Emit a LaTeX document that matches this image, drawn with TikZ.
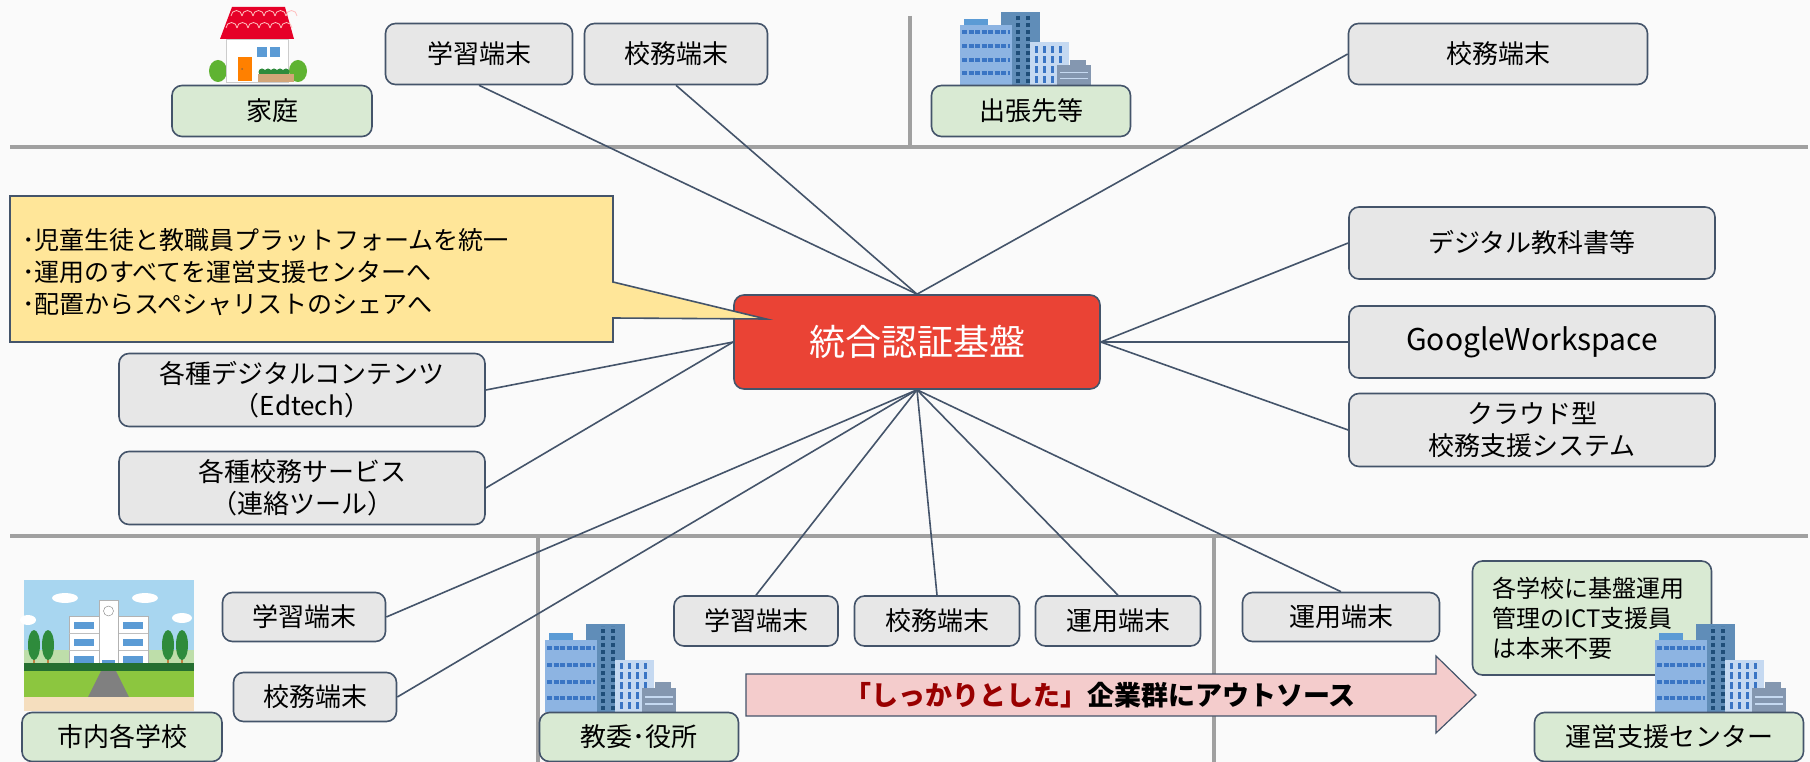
\documentclass[tikz,border=0pt]{standalone}
\usepackage{fontspec}
\setmainfont{Noto Sans CJK JP}
\usetikzlibrary{calc}
\definecolor{slate}{RGB}{68,84,106}
\definecolor{termgray}{RGB}{231,231,231}
\definecolor{sitegreen}{RGB}{217,234,211}
\definecolor{coralred}{RGB}{234,67,53}
\definecolor{memoyellow}{RGB}{255,230,153}
\definecolor{sepgray}{RGB}{160,160,160}
\definecolor{paper}{RGB}{250,250,250}
\definecolor{arrowpink}{RGB}{244,204,204}
\definecolor{deepred}{RGB}{153,0,0}
% clip-art colours
\definecolor{roofred}{RGB}{230,0,40}
\definecolor{leafgreen}{RGB}{95,179,50}
\definecolor{treegreen}{RGB}{46,139,60}
\definecolor{hillgreen}{RGB}{190,222,170}
\definecolor{skyblue}{RGB}{168,214,240}
\definecolor{grassgreen}{RGB}{140,198,63}
\definecolor{sand}{RGB}{245,222,190}
\definecolor{winblue}{RGB}{91,155,213}
\definecolor{towerblue}{RGB}{96,141,184}
\definecolor{navywin}{RGB}{31,78,121}
\definecolor{lightblock}{RGB}{141,180,226}
\definecolor{paleblock}{RGB}{197,217,241}
\definecolor{stripeblue}{RGB}{58,117,196}
\definecolor{slateblock}{RGB}{132,151,176}

\newcommand\termfont{\fontsize{26}{32}\selectfont}
\newcommand\sitefont{\fontsize{26}{30}\selectfont}

% office buildings: bottom-left corner #1, vertical scale #2
\newcommand\drawoffices[2]{%
  \begin{scope}[shift={#1},yscale=#2]
    \fill[towerblue] (41,0) rectangle (80,-88);
    \draw[navywin,line width=3.5pt,dash pattern=on 4pt off 3pt] (58,-2) -- (58,-86) (68,-2) -- (68,-86);
    \fill[lightblock] (0,0) rectangle (52,-72);
    \fill[winblue] (4,-72) rectangle (28,-79);
    \foreach \y in {-14,-30,-47,-64}
      \draw[stripeblue,line width=4pt,dash pattern=on 5pt off 1.5pt] (2,\y) -- (50,\y);
    \fill[paleblock] (70,0) rectangle (109,-52);
    \foreach \x in {76,84,92,100}
      \draw[stripeblue,line width=3pt,dash pattern=on 7pt off 3pt] (\x,-3) -- (\x,-49);
    \fill[slateblock] (110,-24) rectangle (126,-30);
    \fill[slateblock] (97,0) rectangle (131,-24);
    \draw[paleblock,line width=1.5pt] (100,-8) -- (128,-8) (100,-15) -- (128,-15);
  \end{scope}}

\begin{document}
\begin{tikzpicture}[x=1pt,y=-1pt,
    link/.style={draw=slate,line width=1.6pt},
    term/.style={draw=slate,line width=1.6pt,fill=termgray,rounded corners=10pt,
      align=center,inner sep=0pt,font=\termfont},
    site/.style={term,fill=sitegreen,font=\sitefont},
    divider/.style={draw=sepgray,line width=4.5pt}]

  \fill[paper] (0,0) rectangle (1810,762);
  \useasboundingbox (0,0) rectangle (1810,762);

  % zone dividers
  \draw[divider] (10,147) -- (1808,147);
  \draw[divider] (910,16) -- (910,147);
  \draw[divider] (10,536) -- (1808,536);
  \draw[divider] (538,536) -- (538,762);
  \draw[divider] (1214,536) -- (1214,762);

  % house
  \fill[leafgreen] (218,71) ellipse [x radius=9, y radius=11];
  \fill[leafgreen] (298,71) ellipse [x radius=9, y radius=11];
  \fill[white,draw=gray!40] (226,39) rectangle (288,82);
  \fill[roofred] (232,7) -- (285,7) -- (294,39) -- (220,39) -- cycle;
  \foreach \i in {0,...,5} {
    \draw[pink,line width=0.8pt] (231+\i*11,16) arc [start angle=180, end angle=360, radius=5.5];
    \draw[pink,line width=0.8pt] (226+\i*11,28) arc [start angle=180, end angle=360, radius=5.5];
  }
  \fill[winblue] (257,47) rectangle (267,57);
  \fill[winblue] (270,47) rectangle (280,57);
  \fill[orange] (238,57) rectangle (252,81);
  \fill[brown!80!black] (242,69) circle [radius=1];
  \foreach \x in {262,268,...,290}
    \fill[treegreen] (\x,72) circle [radius=3.5];
  \fill[brown!70] (258,74) rectangle (294,82);

  % school
  \fill[skyblue] (24,580) rectangle (194,665);
  \fill[white] (65,598) ellipse [x radius=13, y radius=5];
  \fill[white] (145,598) ellipse [x radius=13, y radius=5];
  \fill[white] (182,618) ellipse [x radius=10, y radius=5];
  \fill[white] (28,620) ellipse [x radius=8, y radius=5];
  \fill[hillgreen] (24,650) rectangle (194,665);
  \fill[white,draw=gray!60] (69,616) rectangle (148,669);
  \draw[gray!50] (69,633) -- (148,633) (69,650) -- (148,650);
  \foreach \y in {622,639,656} {
    \fill[winblue] (74,\y) rectangle (94,\y+7);
    \fill[winblue] (123,\y) rectangle (143,\y+7);
  }
  \fill[white,draw=gray!60] (99,600) rectangle (118,669);
  \draw[gray] (108.5,611) circle [radius=5];
  \fill[winblue] (102,660) rectangle (115,669);
  \foreach \x in {34,48,168,182} {
    \fill[brown] (\x-1,650) rectangle (\x+1,665);
    \fill[treegreen] (\x,645) ellipse [x radius=6, y radius=15];
  }
  \fill[treegreen!80!black] (24,663) rectangle (194,671);
  \fill[grassgreen] (24,671) rectangle (194,697);
  \fill[gray] (101,671) -- (116,671) -- (129,697) -- (88,697) -- cycle;
  \fill[sand] (24,697) rectangle (194,711);

  % office buildings
  \drawoffices{(960,85)}{0.83}
  \drawoffices{(545,712)}{1}

  % core
  \node[term,fill=coralred,text=white,font=\fontsize{36}{40}\selectfont,
    minimum width=366pt,minimum height=94pt] (auth) at (917,342) {統合認証基盤};

  % top zone
  \node[term,minimum width=187pt,minimum height=61pt] (learnA) at (479,54) {学習端末};
  \node[term,minimum width=183pt,minimum height=61pt] (adminA) at (676,54) {校務端末};
  \node[term,minimum width=299pt,minimum height=61pt] (adminB) at (1498,54) {校務端末};
  \node[site,minimum width=200pt,minimum height=51pt] (home) at (272,111) {家庭};
  \node[site,minimum width=199pt,minimum height=51pt] (trip) at (1031,111) {出張先等};

  % services
  \node[term,minimum width=366pt,minimum height=72pt] (textbook) at (1532,243) {デジタル教科書等};
  \node[term,minimum width=366pt,minimum height=72pt,font=\fontsize{30}{32}\selectfont] (gws) at (1532,342) {GoogleWorkspace};
  \node[term,minimum width=366pt,minimum height=73pt] (cloud) at (1532,430) {クラウド型\\校務支援システム};
  \node[term,minimum width=366pt,minimum height=73pt] (edtech) at (302,390) {各種デジタルコンテンツ\\（Edtech）};
  \node[term,minimum width=366pt,minimum height=73pt] (contact) at (302,488) {各種校務サービス\\（連絡ツール）};

  % bottom zone
  \node[term,minimum width=163pt,minimum height=49pt] (learnS) at (304,617) {学習端末};
  \node[term,minimum width=163pt,minimum height=49pt] (adminS) at (315,697) {校務端末};
  \node[site,minimum width=200pt,minimum height=49pt] (school) at (122,737) {市内各学校};
  \node[site,minimum width=199pt,minimum height=49pt] (board) at (639,737) {教委･役所};
  \node[term,minimum width=164pt,minimum height=50pt] (learnB) at (756,621) {学習端末};
  \node[term,minimum width=165pt,minimum height=50pt] (adminC) at (937,621) {校務端末};
  \node[term,minimum width=165pt,minimum height=50pt] (opsB) at (1118,621) {運用端末};
  \node[term,minimum width=197pt,minimum height=49pt] (opsC) at (1341,617) {運用端末};
  \node[site,font=\fontsize{24}{30}\selectfont,align=left,text width=199pt,inner xsep=20pt,
    minimum height=114pt] (noneed) at (1592,618) {各学校に基盤運用\\管理のICT支援員\\は本来不要};
  \drawoffices{(1655,712)}{1}
  \node[site,minimum width=269pt,minimum height=49pt] (center) at (1669,737) {運営支援センター};

  % connections to the core
  \draw[link] (learnA.south) -- (auth.north);
  \draw[link] (adminA.south) -- (auth.north);
  \draw[link] (adminB.west) -- (auth.north);
  \draw[link] (textbook.west) -- (auth.east);
  \draw[link] (gws.west) -- (auth.east);
  \draw[link] (cloud.west) -- (auth.east);
  \draw[link] (edtech.east) -- (auth.west);
  \draw[link] (contact.east) -- (auth.west);
  \draw[link] (learnS.east) -- (auth.south);
  \draw[link] (adminS.east) -- (auth.south);
  \draw[link] (learnB.north) -- (auth.south);
  \draw[link] (adminC.north) -- (auth.south);
  \draw[link] (opsB.north) -- (auth.south);
  \draw[link] (opsC.north) -- (auth.south);

  % memo callout
  \coordinate (tip) at ($(auth.west)+(33,-23)$);
  \filldraw[fill=memoyellow,draw=slate,line width=1.6pt]
    (10,196) -- (613,196) -- (613,282) -- (tip) -- (613,318) -- (613,342) -- (10,342) -- cycle;
  \node[anchor=west,align=left,inner sep=0pt,font=\fontsize{25}{32}\selectfont] (memo) at (22,272)
    {･児童生徒と教職員プラットフォームを統一\\･運用のすべてを運営支援センターへ\\･配置からスペシャリストのシェアへ};

  % outsourcing arrow
  \filldraw[fill=arrowpink,draw=slate,line width=1.2pt]
    (746,674) -- (1436,674) -- (1436,656) -- (1476,695) -- (1436,733) -- (1436,716) -- (746,716) -- cycle;
  \node[font=\fontsize{27}{32}\selectfont\bfseries] (outsrc) at (1100,695)
    {\textcolor{deepred}{「しっかりとした」}企業群にアウトソース};
\end{tikzpicture}
\end{document}
